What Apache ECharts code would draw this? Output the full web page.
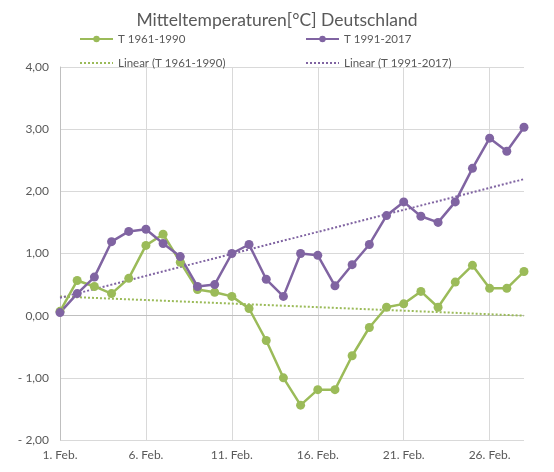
<!DOCTYPE html>
<html>
<head>
<meta charset="utf-8">
<script src="https://cdn.jsdelivr.net/npm/echarts@6/dist/echarts.min.js"></script>
<style>
  html, body { margin: 0; padding: 0; background: #fff; }
  #chart { width: 554px; height: 472px; }
</style>
</head>
<body>
<div id="chart"></div>
<script>
// daily mean temperatures, 1.-28. February
const days = ['1. Feb.', '2. Feb.', '3. Feb.', '4. Feb.', '5. Feb.', '6. Feb.', '7. Feb.',
  '8. Feb.', '9. Feb.', '10. Feb.', '11. Feb.', '12. Feb.', '13. Feb.', '14. Feb.',
  '15. Feb.', '16. Feb.', '17. Feb.', '18. Feb.', '19. Feb.', '20. Feb.', '21. Feb.',
  '22. Feb.', '23. Feb.', '24. Feb.', '25. Feb.', '26. Feb.', '27. Feb.', '28. Feb.'];

const t1961 = [0.07, 0.565, 0.47, 0.355, 0.60, 1.13, 1.31, 0.86, 0.42, 0.376, 0.31, 0.115, -0.40, -1.00,
  -1.44, -1.19, -1.19, -0.645, -0.19, 0.135, 0.19, 0.39, 0.135, 0.54, 0.81, 0.44, 0.44, 0.71];

const t1991 = [0.05, 0.355, 0.62, 1.19, 1.355, 1.39, 1.16, 0.95, 0.47, 0.50, 1.00, 1.145, 0.585, 0.31,
  1.00, 0.97, 0.48, 0.82, 1.145, 1.61, 1.83, 1.60, 1.50, 1.83, 2.37, 2.855, 2.645, 3.03];

const names = ['T 1961-1990', 'T 1991-2017', 'Linear (T 1961-1990)', 'Linear (T 1991-2017)'];

const green = '#9bbb59';
const purple = '#8064a2';
const textColor = '#595959';
const font = 'Lato, "Open Sans", sans-serif';

// least squares trend, like the spreadsheet's "Linear" trendline
function trend(values) {
  const n = values.length;
  let sx = 0, sy = 0, sxx = 0, sxy = 0;
  values.forEach((y, i) => {
    sx += i; sy += y; sxx += i * i; sxy += i * y;
  });
  const slope = (n * sxy - sx * sy) / (n * sxx - sx * sx);
  const icpt = (sy - slope * sx) / n;
  return values.map((y, i) => +(icpt + slope * i).toFixed(4));
}

function fmt(v) {
  const s = Math.abs(v).toFixed(2).replace('.', ',');
  return v < 0 ? '- ' + s : s;
}

const chart = echarts.init(document.getElementById('chart'));

function dataLine(name, values, color) {
  return {
    name,
    type: 'line',
    data: values,
    symbol: 'circle',
    symbolSize: 9,
    color,
    lineStyle: {width: 2.5, color},
    itemStyle: {color},
    z: 3,
  };
}

function trendLine(name, values, color) {
  return {
    name,
    type: 'line',
    data: trend(values),
    symbol: 'none',
    color,
    lineStyle: {width: 2, color, type: [2, 2]},
    z: 2,
  };
}

const legendText = {color: textColor, fontFamily: font, fontSize: 11.5};
const legendPos = [[74, 28], [300, 28], [74, 52], [300, 52]];

const legends = names.map((n, i) => {
  const lg = {
    data: [n],
    left: legendPos[i][0],
    top: legendPos[i][1],
    itemWidth: 33,
    itemHeight: 8,
    itemGap: 0,
    textStyle: legendText,
    selectedMode: false,
  };
  // trendlines show only the dotted line in the legend, no marker
  if(i > 1) lg.itemStyle = {opacity: 0};
  return lg;
});

chart.setOption({
  animation: false,
  title: {
    text: 'Mitteltemperaturen[°C] Deutschland',
    left: 'center',
    top: 6,
    textStyle: {color: textColor, fontFamily: font, fontSize: 17.5, fontWeight: 'normal'},
  },
  legend: legends,
  grid: {left: 60, right: 30, top: 67, bottom: 32},
  xAxis: {
    type: 'category',
    data: days,
    boundaryGap: false,
    axisLine: {lineStyle: {color: '#bfbfbf', width: 1}},
    axisTick: {show: false},
    axisLabel: {interval: 4, color: textColor, fontFamily: font, fontSize: 12, margin: 9},
    splitLine: {show: true, interval: 4, lineStyle: {color: '#d9d9d9', width: 1}},
  },
  yAxis: {
    type: 'value',
    min: -2,
    max: 4,
    interval: 1,
    axisLine: {show: true, lineStyle: {color: '#bfbfbf', width: 1}},
    axisTick: {show: false},
    axisLabel: {formatter: fmt, color: textColor, fontFamily: font, fontSize: 12, margin: 11},
    splitLine: {lineStyle: {color: '#d9d9d9', width: 1}},
  },
  series: [
    dataLine(names[0], t1961, green),
    dataLine(names[1], t1991, purple),
    trendLine(names[2], t1961, green),
    trendLine(names[3], t1991, purple),
  ],
});
</script>
</body>
</html>
